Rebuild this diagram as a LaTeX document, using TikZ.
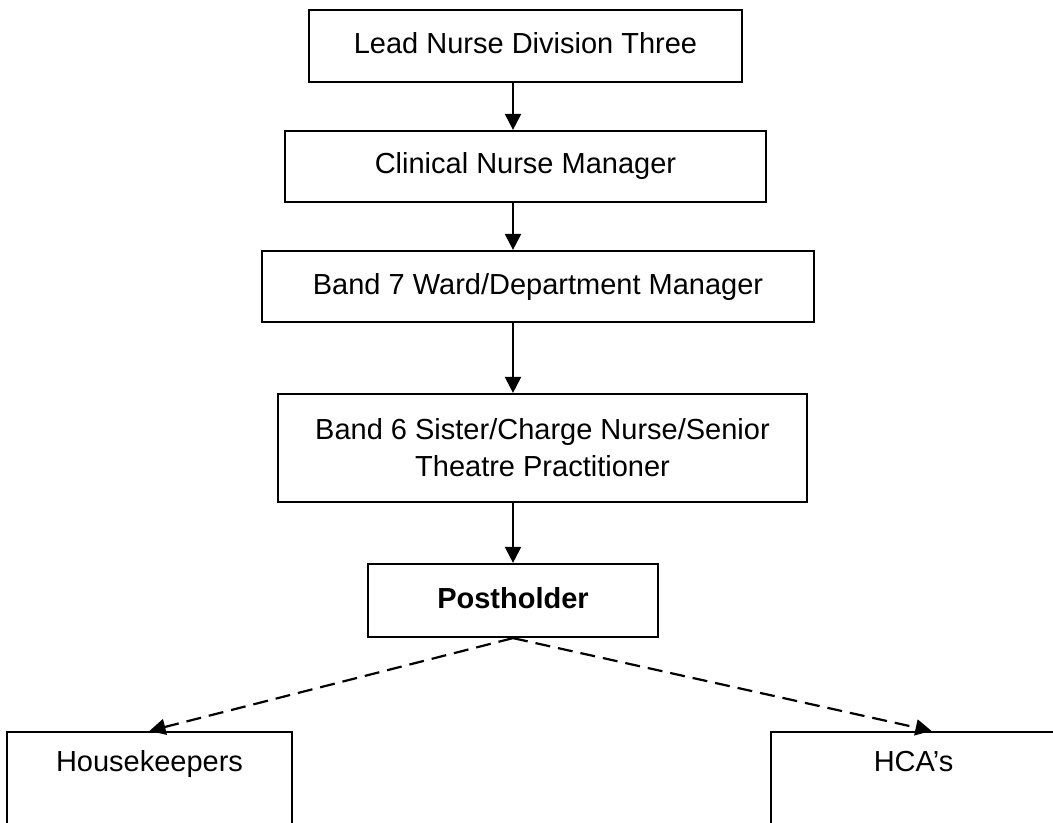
\documentclass[tikz,border=0pt]{standalone}
\usepackage{fontspec}
\setmainfont{Liberation Sans}
\usetikzlibrary{arrows.meta}

\begin{document}
\begin{tikzpicture}[x=0.5pt,y=-0.5pt,
    orgbox/.style={draw, line width=1.1pt, align=center, inner sep=0pt,
      font=\fontsize{14.5}{18.5}\selectfont},
    oneline/.style={text height=10.5pt, text depth=3pt},
    toptext/.style={text height=10.5pt, text depth=35.5pt},
    down/.style={line width=1.1pt, -{Triangle[length=8pt,width=8pt]}},
    report/.style={down, dash pattern=on 7.5pt off 4pt}]
    \useasboundingbox (0,0) rectangle (1053,823);
    % Draw the management chain
    \node[orgbox, oneline, minimum width=216.5pt, minimum height=36pt] (lead) at (525.5,46) {Lead Nurse Division Three};
    \node[orgbox, oneline, minimum width=240.5pt, minimum height=35.5pt] (clinical) at (525.5,166.5) {Clinical Nurse Manager};
    \node[orgbox, oneline, minimum width=276pt, minimum height=35.5pt] (band7) at (538,286.5) {Band 7 Ward/Department Manager};
    \node[orgbox, minimum width=264.5pt, minimum height=54pt] (band6) at (542.5,448) {Band 6 Sister/Charge Nurse/Senior\\Theatre Practitioner};
    \node[orgbox, oneline, minimum width=145pt, minimum height=36.5pt] (post) at (513,600.5) {\bfseries Postholder};
    % Staff under the postholder
    \node[orgbox, toptext, minimum width=142.5pt, minimum height=64pt] (house) at (149.5,796) {Housekeepers};
    \node[orgbox, toptext, minimum width=142.5pt, minimum height=64pt] (hca) at (913.5,796) {HCA’s};
    % Draw the reporting lines
    \draw[down] (lead.south -| post) -- (clinical.north -| post);
    \draw[down] (clinical.south -| post) -- (band7.north -| post);
    \draw[down] (band7.south -| post) -- (band6.north -| post);
    \draw[down] (band6.south -| post) -- (post.north);
    \draw[report] (post.south) -- (house.north);
    \draw[report] (post.south) -- ([xshift=9pt]hca.north);
\end{tikzpicture}
\end{document}
